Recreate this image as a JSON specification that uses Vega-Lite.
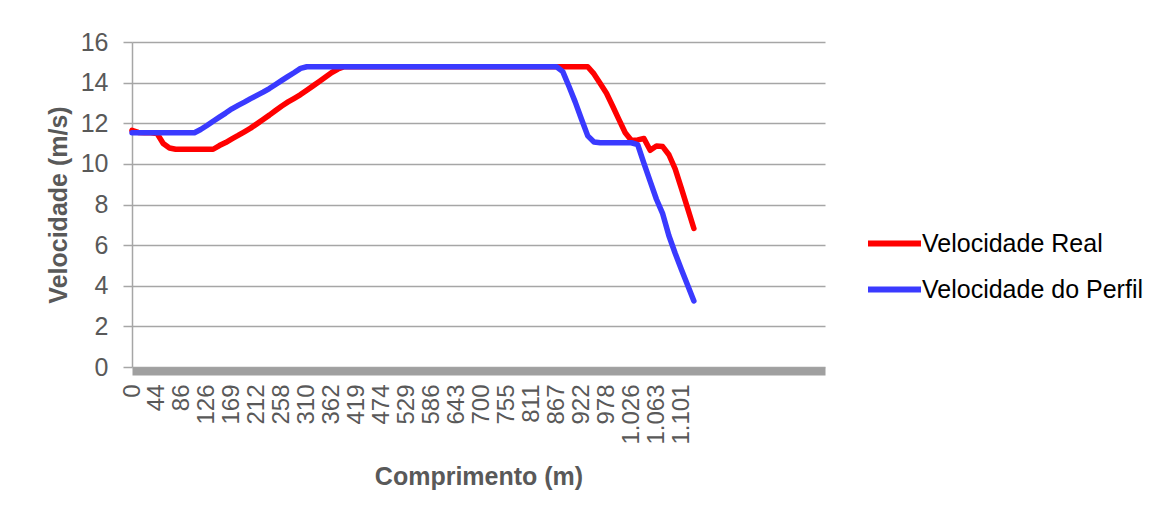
{
  "$schema": "https://vega.github.io/schema/vega-lite/v6.json",
  "width": 693,
  "height": 325,
  "autosize": {"type": "none"},
  "padding": {"left": 132, "top": 42, "right": 349, "bottom": 148},
  "background": "#ffffff",
  "config": {"view": {"stroke": null}, "font": "Liberation Sans"},
  "data": {
    "values": [
      {"comprimento": "0", "Velocidade Real": 11.65, "Velocidade do Perfil": 11.53},
      {"comprimento": "11", "Velocidade Real": 11.55, "Velocidade do Perfil": 11.53},
      {"comprimento": "22", "Velocidade Real": 11.53, "Velocidade do Perfil": 11.53},
      {"comprimento": "33", "Velocidade Real": 11.53, "Velocidade do Perfil": 11.53},
      {"comprimento": "44", "Velocidade Real": 11.5, "Velocidade do Perfil": 11.53},
      {"comprimento": "54", "Velocidade Real": 11.0, "Velocidade do Perfil": 11.53},
      {"comprimento": "65", "Velocidade Real": 10.78, "Velocidade do Perfil": 11.53},
      {"comprimento": "75", "Velocidade Real": 10.72, "Velocidade do Perfil": 11.53},
      {"comprimento": "86", "Velocidade Real": 10.72, "Velocidade do Perfil": 11.53},
      {"comprimento": "96", "Velocidade Real": 10.72, "Velocidade do Perfil": 11.53},
      {"comprimento": "106", "Velocidade Real": 10.72, "Velocidade do Perfil": 11.53},
      {"comprimento": "116", "Velocidade Real": 10.72, "Velocidade do Perfil": 11.69},
      {"comprimento": "126", "Velocidade Real": 10.72, "Velocidade do Perfil": 11.89},
      {"comprimento": "137", "Velocidade Real": 10.72, "Velocidade do Perfil": 12.1},
      {"comprimento": "148", "Velocidade Real": 10.9, "Velocidade do Perfil": 12.3},
      {"comprimento": "158", "Velocidade Real": 11.05, "Velocidade do Perfil": 12.5},
      {"comprimento": "169", "Velocidade Real": 11.23, "Velocidade do Perfil": 12.71},
      {"comprimento": "180", "Velocidade Real": 11.4, "Velocidade do Perfil": 12.88},
      {"comprimento": "191", "Velocidade Real": 11.58, "Velocidade do Perfil": 13.04},
      {"comprimento": "201", "Velocidade Real": 11.76, "Velocidade do Perfil": 13.21},
      {"comprimento": "212", "Velocidade Real": 11.97, "Velocidade do Perfil": 13.37},
      {"comprimento": "224", "Velocidade Real": 12.19, "Velocidade do Perfil": 13.53},
      {"comprimento": "235", "Velocidade Real": 12.4, "Velocidade do Perfil": 13.71},
      {"comprimento": "247", "Velocidade Real": 12.63, "Velocidade do Perfil": 13.91},
      {"comprimento": "258", "Velocidade Real": 12.85, "Velocidade do Perfil": 14.11},
      {"comprimento": "271", "Velocidade Real": 13.05, "Velocidade do Perfil": 14.31},
      {"comprimento": "284", "Velocidade Real": 13.23, "Velocidade do Perfil": 14.5},
      {"comprimento": "297", "Velocidade Real": 13.41, "Velocidade do Perfil": 14.7},
      {"comprimento": "310", "Velocidade Real": 13.63, "Velocidade do Perfil": 14.78},
      {"comprimento": "323", "Velocidade Real": 13.84, "Velocidade do Perfil": 14.78},
      {"comprimento": "336", "Velocidade Real": 14.06, "Velocidade do Perfil": 14.78},
      {"comprimento": "349", "Velocidade Real": 14.28, "Velocidade do Perfil": 14.78},
      {"comprimento": "362", "Velocidade Real": 14.5, "Velocidade do Perfil": 14.78},
      {"comprimento": "376", "Velocidade Real": 14.67, "Velocidade do Perfil": 14.78},
      {"comprimento": "391", "Velocidade Real": 14.78, "Velocidade do Perfil": 14.78},
      {"comprimento": "405", "Velocidade Real": 14.78, "Velocidade do Perfil": 14.78},
      {"comprimento": "419", "Velocidade Real": 14.78, "Velocidade do Perfil": 14.78},
      {"comprimento": "433", "Velocidade Real": 14.78, "Velocidade do Perfil": 14.78},
      {"comprimento": "447", "Velocidade Real": 14.78, "Velocidade do Perfil": 14.78},
      {"comprimento": "460", "Velocidade Real": 14.78, "Velocidade do Perfil": 14.78},
      {"comprimento": "474", "Velocidade Real": 14.78, "Velocidade do Perfil": 14.78},
      {"comprimento": "488", "Velocidade Real": 14.78, "Velocidade do Perfil": 14.78},
      {"comprimento": "502", "Velocidade Real": 14.78, "Velocidade do Perfil": 14.78},
      {"comprimento": "515", "Velocidade Real": 14.78, "Velocidade do Perfil": 14.78},
      {"comprimento": "529", "Velocidade Real": 14.78, "Velocidade do Perfil": 14.78},
      {"comprimento": "543", "Velocidade Real": 14.78, "Velocidade do Perfil": 14.78},
      {"comprimento": "558", "Velocidade Real": 14.78, "Velocidade do Perfil": 14.78},
      {"comprimento": "572", "Velocidade Real": 14.78, "Velocidade do Perfil": 14.78},
      {"comprimento": "586", "Velocidade Real": 14.78, "Velocidade do Perfil": 14.78},
      {"comprimento": "600", "Velocidade Real": 14.78, "Velocidade do Perfil": 14.78},
      {"comprimento": "615", "Velocidade Real": 14.78, "Velocidade do Perfil": 14.78},
      {"comprimento": "629", "Velocidade Real": 14.78, "Velocidade do Perfil": 14.78},
      {"comprimento": "643", "Velocidade Real": 14.78, "Velocidade do Perfil": 14.78},
      {"comprimento": "657", "Velocidade Real": 14.78, "Velocidade do Perfil": 14.78},
      {"comprimento": "672", "Velocidade Real": 14.78, "Velocidade do Perfil": 14.78},
      {"comprimento": "686", "Velocidade Real": 14.78, "Velocidade do Perfil": 14.78},
      {"comprimento": "700", "Velocidade Real": 14.78, "Velocidade do Perfil": 14.78},
      {"comprimento": "714", "Velocidade Real": 14.78, "Velocidade do Perfil": 14.78},
      {"comprimento": "728", "Velocidade Real": 14.78, "Velocidade do Perfil": 14.78},
      {"comprimento": "741", "Velocidade Real": 14.78, "Velocidade do Perfil": 14.78},
      {"comprimento": "755", "Velocidade Real": 14.78, "Velocidade do Perfil": 14.78},
      {"comprimento": "769", "Velocidade Real": 14.78, "Velocidade do Perfil": 14.78},
      {"comprimento": "783", "Velocidade Real": 14.78, "Velocidade do Perfil": 14.78},
      {"comprimento": "797", "Velocidade Real": 14.78, "Velocidade do Perfil": 14.78},
      {"comprimento": "811", "Velocidade Real": 14.78, "Velocidade do Perfil": 14.78},
      {"comprimento": "825", "Velocidade Real": 14.78, "Velocidade do Perfil": 14.78},
      {"comprimento": "839", "Velocidade Real": 14.78, "Velocidade do Perfil": 14.78},
      {"comprimento": "853", "Velocidade Real": 14.78, "Velocidade do Perfil": 14.78},
      {"comprimento": "867", "Velocidade Real": 14.78, "Velocidade do Perfil": 14.78},
      {"comprimento": "881", "Velocidade Real": 14.78, "Velocidade do Perfil": 14.54},
      {"comprimento": "895", "Velocidade Real": 14.78, "Velocidade do Perfil": 13.81},
      {"comprimento": "908", "Velocidade Real": 14.78, "Velocidade do Perfil": 13.04},
      {"comprimento": "922", "Velocidade Real": 14.78, "Velocidade do Perfil": 12.2},
      {"comprimento": "936", "Velocidade Real": 14.78, "Velocidade do Perfil": 11.38},
      {"comprimento": "950", "Velocidade Real": 14.43, "Velocidade do Perfil": 11.08},
      {"comprimento": "964", "Velocidade Real": 13.96, "Velocidade do Perfil": 11.04},
      {"comprimento": "978", "Velocidade Real": 13.48, "Velocidade do Perfil": 11.04},
      {"comprimento": "990", "Velocidade Real": 12.84, "Velocidade do Perfil": 11.04},
      {"comprimento": "1.002", "Velocidade Real": 12.18, "Velocidade do Perfil": 11.04},
      {"comprimento": "1.014", "Velocidade Real": 11.53, "Velocidade do Perfil": 11.04},
      {"comprimento": "1.026", "Velocidade Real": 11.15, "Velocidade do Perfil": 11.04},
      {"comprimento": "1.035", "Velocidade Real": 11.18, "Velocidade do Perfil": 10.95},
      {"comprimento": "1.045", "Velocidade Real": 11.25, "Velocidade do Perfil": 10.02},
      {"comprimento": "1.054", "Velocidade Real": 10.67, "Velocidade do Perfil": 9.14},
      {"comprimento": "1.063", "Velocidade Real": 10.88, "Velocidade do Perfil": 8.26},
      {"comprimento": "1.073", "Velocidade Real": 10.85, "Velocidade do Perfil": 7.55},
      {"comprimento": "1.082", "Velocidade Real": 10.45, "Velocidade do Perfil": 6.46},
      {"comprimento": "1.092", "Velocidade Real": 9.75, "Velocidade do Perfil": 5.6},
      {"comprimento": "1.101", "Velocidade Real": 8.79, "Velocidade do Perfil": 4.8},
      {"comprimento": "1.110", "Velocidade Real": 7.81, "Velocidade do Perfil": 4.02},
      {"comprimento": "1.120", "Velocidade Real": 6.82, "Velocidade do Perfil": 3.25}
    ]
  },
  "transform": [
    {"fold": ["Velocidade Real", "Velocidade do Perfil"], "as": ["serie", "velocidade"]}
  ],
  "mark": {"type": "line", "strokeWidth": 5.5, "strokeCap": "round", "strokeJoin": "round"},
  "encoding": {
    "x": {
      "field": "comprimento",
      "type": "ordinal",
      "sort": null,
      "scale": {
        "type": "point",
        "padding": 0,
        "domain": [
          "0", "11", "22", "33", "44", "54", "65", "75", "86", "96", "106", "116", "126", "137", "148", "158",
          "169", "180", "191", "201", "212", "224", "235", "247", "258", "271", "284", "297", "310", "323", "336", "349",
          "362", "376", "391", "405", "419", "433", "447", "460", "474", "488", "502", "515", "529", "543", "558", "572",
          "586", "600", "615", "629", "643", "657", "672", "686", "700", "714", "728", "741", "755", "769", "783", "797",
          "811", "825", "839", "853", "867", "881", "895", "908", "922", "936", "950", "964", "978", "990", "1.002", "1.014",
          "1.026", "1.035", "1.045", "1.054", "1.063", "1.073", "1.082", "1.092", "1.101", "1.110", "1.120",
          "(vazio 1)", "(vazio 2)", "(vazio 3)", "(vazio 4)", "(vazio 5)", "(vazio 6)", "(vazio 7)",
          "(vazio 8)", "(vazio 9)", "(vazio 10)", "(vazio 11)", "(vazio 12)", "(vazio 13)", "(vazio 14)",
          "(vazio 15)", "(vazio 16)", "(vazio 17)", "(vazio 18)", "(vazio 19)", "(vazio 20)", "(vazio 21)"
        ]
      },
      "axis": {
        "values": ["0", "44", "86", "126", "169", "212", "258", "310", "362", "419", "474", "529", "586", "643", "700", "755", "811", "867", "922", "978", "1.026", "1.063", "1.101"],
        "labelAngle": -90,
        "labelFontSize": 24,
        "labelColor": "#595959",
        "labelPadding": 13,
        "labelOverlap": false,
        "ticks": false,
        "domainColor": "#a0a0a0",
        "domainWidth": 8,
        "domainCap": "butt",
        "offset": 4,
        "grid": false,
        "title": "Comprimento (m)",
        "titleFontSize": 25,
        "titleFontWeight": "bold",
        "titleColor": "#595959",
        "titlePadding": 20
      }
    },
    "y": {
      "field": "velocidade",
      "type": "quantitative",
      "scale": {"domain": [0, 16]},
      "axis": {
        "values": [0, 2, 4, 6, 8, 10, 12, 14, 16],
        "grid": true,
        "gridColor": "#a6a6a6",
        "gridWidth": 1.5,
        "domainColor": "#a6a6a6",
        "domainWidth": 1.5,
        "tickColor": "#a6a6a6",
        "tickWidth": 1.5,
        "tickSize": 9,
        "labelFontSize": 25,
        "labelColor": "#595959",
        "labelPadding": 15,
        "title": "Velocidade (m/s)",
        "titleFontSize": 25,
        "titleFontWeight": "bold",
        "titleColor": "#595959",
        "titlePadding": 9
      }
    },
    "color": {
      "field": "serie",
      "type": "nominal",
      "scale": {"domain": ["Velocidade Real", "Velocidade do Perfil"], "range": ["#ff0000", "#3a3aff"]},
      "legend": {
        "title": null,
        "orient": "none",
        "legendX": 733,
        "legendY": 172,
        "symbolType": "stroke",
        "symbolSize": 2809,
        "symbolStrokeWidth": 6,
        "labelFontSize": 25,
        "labelColor": "#000000",
        "labelOffset": -2,
        "labelLimit": 400,
        "rowPadding": 3
      }
    }
  }
}
